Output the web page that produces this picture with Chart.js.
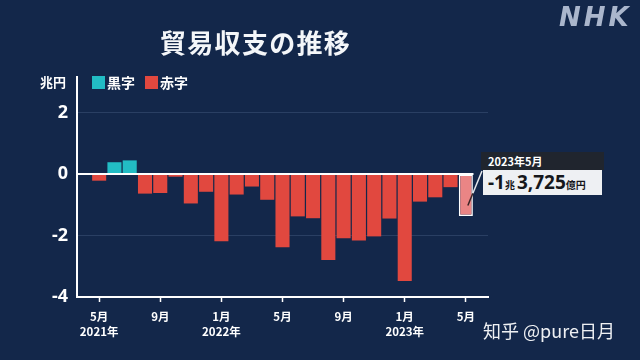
<!DOCTYPE html>
<html>
<head>
<meta charset="utf-8">
<script src="https://cdn.jsdelivr.net/npm/chart.js@4.4.0/dist/chart.umd.min.js"></script>
<style>
  html,body{margin:0;padding:0;background:#13274a;}
  #wrap{position:relative;width:640px;height:360px;overflow:hidden;background:#13274a;font-family:"Noto Sans CJK JP","Noto Sans",sans-serif;}
  canvas{position:absolute;left:0;top:0;}
  .abs{position:absolute;white-space:nowrap;}
  #title{left:160px;top:24px;font-size:26px;font-weight:700;color:#f4f6f9;letter-spacing:1.3px;line-height:36px;}
  #logo{left:559px;top:2px;font-family:"DejaVu Sans",sans-serif;font-size:26px;font-weight:700;font-style:italic;color:#aab6cc;letter-spacing:3px;line-height:30px;}
  #unit{left:40px;top:73px;font-size:13px;font-weight:700;color:#fff;line-height:18px;}
  .leg{top:73px;font-size:14px;font-weight:700;color:#fff;line-height:18px;}
  .sw{display:inline-block;width:13px;height:13px;vertical-align:-1px;margin-right:2px;}
  #hdr{left:481px;top:152px;width:123px;height:18px;background:#20252e;color:#fff;font-size:11px;font-weight:700;line-height:18px;}
  #hdr span{margin-left:7px;}
  #val{left:483px;top:170px;width:119px;height:25px;background:#eef0f3;color:#15171b;line-height:25px;}
  #val .big{font-size:19px;font-weight:700;font-family:"Noto Sans","Noto Sans CJK JP",sans-serif;}
  #val .sm{font-size:10px;font-weight:700;}
  #wm{left:483px;top:318px;font-size:18px;color:#eef0f3;line-height:24px;}
</style>
</head>
<body>
<div id="wrap">
  <canvas id="c" width="640" height="360"></canvas>
  <div id="title" class="abs">貿易収支の推移</div>
  <div id="logo" class="abs">NHK</div>
  <div id="unit" class="abs">兆円</div>
  <div class="abs leg" style="left:92px"><span class="sw" style="background:#22bcc4"></span>黒字</div>
  <div class="abs leg" style="left:145px"><span class="sw" style="background:#e1483f"></span>赤字</div>
  <div id="hdr" class="abs"><span>2023年5月</span></div>
  <div id="val" class="abs"><span style="margin-left:5px" class="big">-1</span><span class="sm">兆</span><span class="big" style="margin-left:2px">3,725</span><span class="sm">億円</span></div>
  <div id="wm" class="abs">知乎 @pure日月</div>
</div>
<script>
// Data (trillion yen)
const months = ['2021年5月','2021年6月','2021年7月','2021年8月','2021年9月','2021年10月','2021年11月','2021年12月',
  '2022年1月','2022年2月','2022年3月','2022年4月','2022年5月','2022年6月','2022年7月','2022年8月','2022年9月','2022年10月','2022年11月','2022年12月',
  '2023年1月','2023年2月','2023年3月','2023年4月','2023年5月'];
const balance = [-0.22, 0.38, 0.44, -0.64, -0.62, -0.09, -0.96, -0.58,
  -2.19, -0.67, -0.41, -0.84, -2.38, -1.38, -1.44, -2.80, -2.09, -2.16, -2.03, -1.45,
  -3.48, -0.90, -0.76, -0.43, -1.37];
const xTickIndex = [0, 4, 8, 12, 16, 20, 24];
const xTickLabels = [['5月','2021年'], ['9月'], ['1月','2022年'], ['5月'], ['9月'], ['1月','2023年'], ['5月']];
const yTickValues = [2, 0, -2, -4];

const TEAL = '#22bcc4', RED = '#e1483f', PINK = '#ea8585';
const lastIdx = balance.length - 1;

const points = balance.map((v, i) => ({x: i, y: v}));
const colors = balance.map((v, i) => i === lastIdx ? PINK : (v >= 0 ? TEAL : RED));
const borders = balance.map((v, i) => i === lastIdx ? 1.5 : 0);

const overlay = {
  id: 'overlay',
  afterDatasetsDraw(chart) {
    const {ctx, chartArea, scales: {x, y}} = chart;
    const y0 = y.getPixelForValue(0);
    ctx.save();
    ctx.strokeStyle = '#ffffff';
    ctx.lineWidth = 2;
    ctx.beginPath();
    ctx.moveTo(chartArea.left, y0);
    ctx.lineTo(x.getPixelForValue(lastIdx + 0.5), y0);
    ctx.stroke();
    // pointer from last bar to label box
    const bx = x.getPixelForValue(lastIdx);
    const by = y.getPixelForValue(balance[lastIdx] * 0.75);
    const ex = 482, ey = 171;
    const edge = x.getPixelForValue(lastIdx + 0.46);
    const t = (edge - (bx + 2)) / (ex - (bx + 2));
    const mx = edge, my = by + (ey - by) * t;
    ctx.lineWidth = 1.5;
    ctx.strokeStyle = '#3a2526';
    ctx.beginPath(); ctx.moveTo(bx + 2, by); ctx.lineTo(mx, my); ctx.stroke();
    ctx.strokeStyle = '#e6e8ec';
    ctx.beginPath(); ctx.moveTo(mx, my); ctx.lineTo(ex, ey); ctx.stroke();
    ctx.restore();
  }
};

new Chart(document.getElementById('c'), {
  type: 'bar',
  data: {
    datasets: [{
      data: points,
      backgroundColor: colors,
      borderColor: '#ffffff',
      borderWidth: borders,
      borderSkipped: false,
      barPercentage: 0.92,
      categoryPercentage: 1.0
    }]
  },
  options: {
    responsive: false,
    animation: false,
    layout: {padding: {top: 77, right: 152, left: 0, bottom: 0}},
    plugins: {legend: {display: false}, tooltip: {enabled: false}, title: {display: false}},
    scales: {
      x: {
        type: 'linear',
        offset: false,
        min: -1.45,
        max: 25.45,
        afterFit(s) { s.height = 63; },
        afterBuildTicks(s) { s.ticks = xTickIndex.map(v => ({value: v})); },
        grid: {offset: false, drawOnChartArea: false, drawTicks: true, tickLength: 5, tickColor: '#ffffff', tickWidth: 1.5},
        border: {display: true, color: '#ffffff', width: 2},
        ticks: {
          autoSkip: false,
          maxRotation: 0,
          padding: 7,
          color: '#ffffff',
          font: {family: '"Noto Sans CJK JP","Noto Sans",sans-serif', size: 11.5, weight: 'bold', lineHeight: 1.3},
          callback(value) { const k = xTickIndex.indexOf(value); return k >= 0 ? xTickLabels[k] : ''; }
        }
      },
      y: {
        min: -4,
        max: 3.15,
        afterFit(s) { s.width = 77; },
        afterBuildTicks(s) { s.ticks = yTickValues.map(v => ({value: v})); },
        grid: {
          drawTicks: false,
          color: (c) => (c.tick && c.tick.value === 0) ? 'rgba(0,0,0,0)' : 'rgba(150,175,215,0.18)',
          lineWidth: 1
        },
        border: {display: true, color: '#ffffff', width: 2},
        ticks: {
          padding: 9,
          color: '#ffffff',
          font: {family: '"Noto Sans","Noto Sans CJK JP",sans-serif', size: 18, weight: 'bold'},
          callback(v) { return String(v); }
        }
      }
    }
  },
  plugins: [overlay]
});
</script>
</body>
</html>
